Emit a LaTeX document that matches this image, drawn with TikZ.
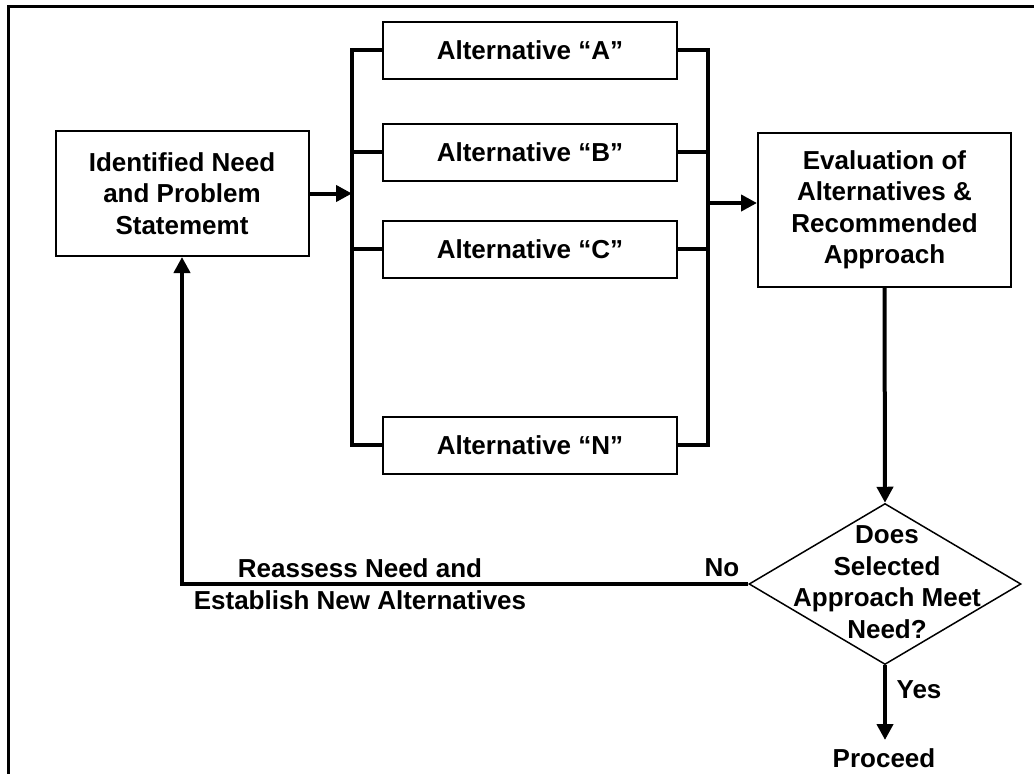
\documentclass[tikz,border=0pt]{standalone}
\usepackage{fontspec}
\setmainfont{Liberation Sans}
\usetikzlibrary{shapes.geometric,arrows.meta}
\begin{document}
\begin{tikzpicture}[x=1pt,y=-1pt,
  every node/.style={font=\bfseries\fontsize{26}{31.5}\selectfont},
  box/.style={draw,line width=2pt,align=center,inner sep=0pt},
  altbox/.style={box,minimum width=294pt,minimum height=57pt},
  bus/.style={line width=4pt,line join=miter},
  arr/.style={line width=4pt,-{Triangle[length=16pt,width=16pt]}},
  lbl/.style={inner sep=0pt}]
\useasboundingbox (0,0) rectangle (1034,774);

% outer frame (top and left edges)
\draw[line width=3pt] (1034,6.5) -- (8,6.5) -- (8,774);

% main boxes
\node[box,minimum width=253pt,minimum height=125pt] (need) at (182,193.5)
  {Identified Need\\and Problem\\Statememt};
\node[box,minimum width=253pt,minimum height=154pt] (eval) at (884.5,210)
  {Evaluation of\\Alternatives \&\\Recommended\\Approach};

% alternatives
\node[altbox] (altA) at (530,50)  {Alternative “A”};
\node[altbox] (altB) at (530,152) {Alternative “B”};
\node[altbox] (altC) at (530,249) {Alternative “C”};
\node[altbox] (altN) at (530,445) {Alternative “N”};

% bus lines
\coordinate (lb) at (352,0);
\coordinate (rb) at (708,0);
\draw[bus] (altA.west) -- (altA.west -| lb) -- (altN.west -| lb) -- (altN.west);
\draw[bus] (altB.west) -- (altB.west -| lb);
\draw[bus] (altC.west) -- (altC.west -| lb);
\draw[bus] (altA.east) -- (altA.east -| rb) -- (altN.east -| rb) -- (altN.east);
\draw[bus] (altB.east) -- (altB.east -| rb);
\draw[bus] (altC.east) -- (altC.east -| rb);

% flow arrows
\draw[arr] (need.east) -- (need.east -| lb);
\draw[arr] ([yshift=7pt]eval.west -| rb) -- ([yshift=7pt]eval.west);

% decision
\node[draw,line width=1.5pt,diamond,shape aspect=1.69,minimum width=272pt,
      minimum height=161pt,inner sep=0pt] (dec) at (885,584) {};
\node[lbl,align=center] (dectext) at (887,582)
  {Does\\Selected\\Approach Meet\\Need?};
\draw[arr] (eval.south) -- (dec.north);

% outcomes
\coordinate (yesend) at (885,740);
\draw[arr] (dec.south) -- (yesend);
\node[lbl] (yes) at (919,690) {Yes};
\node[lbl] (proceed) at (884,758) {Proceed};

\draw[arr] (dec.west) -| (need.south);
\node[lbl] (no) at (722,568) {No};
\node[lbl] (reassess) at (360,568) {Reassess Need and};
\node[lbl] (establish) at (360,600) {Establish New Alternatives};
\end{tikzpicture}
\end{document}
